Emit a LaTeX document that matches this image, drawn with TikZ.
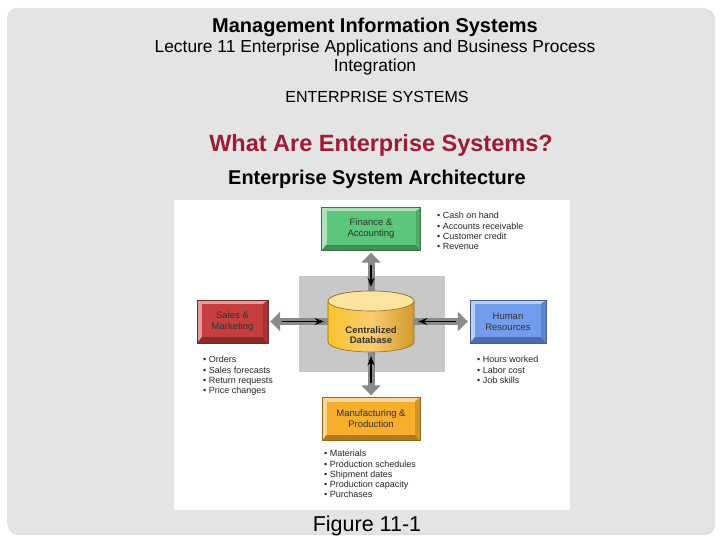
\documentclass[tikz,border=0pt]{standalone}
\usepackage{fontspec}
\setmainfont{Liberation Sans}
\usetikzlibrary{arrows, arrows.meta}

\definecolor{slidegray}{HTML}{E4E4E4}
\definecolor{titlered}{HTML}{9E1B32}
\definecolor{fingreen}{HTML}{5CC67A}
\definecolor{salesred}{HTML}{C63E3E}
\definecolor{hrblue}{HTML}{729DEC}
\definecolor{mfgorange}{HTML}{F7AE2C}
\definecolor{dbbody}{HTML}{F8B535}
\definecolor{dbtop}{HTML}{FDE3A0}
\definecolor{squaregray}{HTML}{C8C8C8}
\definecolor{linkgray}{HTML}{8A8A8A}

\begin{document}
\begin{tikzpicture}[x=1pt,y=-1pt,>={Stealth[length=9pt,width=7pt]},
  dept/.style={rectangle,draw=#1!60!black,fill=#1!50!white,minimum height=43pt,
    inner sep=0pt,align=center,text=black!80,font=\fontsize{9.5}{11}\selectfont,
    path picture={
      \fill[#1!70!black] (path picture bounding box.south west) -- ++(5pt,6pt)
        -- ([shift={(-5pt,6pt)}]path picture bounding box.south east)
        -- (path picture bounding box.south east) -- cycle;
      \fill[#1!85!black] (path picture bounding box.south east) -- ++(-5pt,6pt)
        -- ([shift={(-5pt,-4pt)}]path picture bounding box.north east)
        -- (path picture bounding box.north east) -- cycle;
      \fill[#1] ([shift={(5pt,-4pt)}]path picture bounding box.north west)
        rectangle ([shift={(-5pt,6pt)}]path picture bounding box.south east);}},
  list/.style={anchor=north west,inner sep=0pt,align=left,text=black!85,
    font=\fontsize{9}{10.3}\selectfont},
  link/.style={draw=linkgray,line width=7pt,arrows={Triangle[width=19pt,length=10pt]-},
    shorten <=2pt},
  flow/.style={draw=black,line width=1.3pt,->,shorten <=14pt,shorten >=4pt}]

  \useasboundingbox (0,0) rectangle (720,540);
  % slide
  \fill[white] (0,0) rectangle (720,540);
  \fill[black!12,rounded corners=10pt] (8,9) rectangle (715,535);
  \fill[slidegray,rounded corners=10pt] (7,8) rectangle (713,533);

  \node[anchor=base,font=\bfseries\fontsize{20}{23}\selectfont] (title) at (375,33) {Management Information Systems};
  \node[anchor=base,font=\fontsize{17.4}{20}\selectfont] (lect) at (375,53) {Lecture 11 Enterprise Applications and Business Process};
  \node[anchor=base,font=\fontsize{17.4}{20}\selectfont] (lect2) at (375,72) {Integration};
  \node[anchor=base,font=\fontsize{16}{19}\selectfont] (sect) at (377,103) {ENTERPRISE SYSTEMS};
  \node[anchor=base,text=titlered,font=\bfseries\fontsize{23.5}{27}\selectfont] (head) at (381,152) {What Are Enterprise Systems?};
  \node[anchor=base,font=\bfseries\fontsize{19.9}{23}\selectfont] (sub) at (377,185) {Enterprise System Architecture};
  \node[anchor=base,font=\fontsize{21.5}{24}\selectfont] (fig) at (367,531) {Figure 11-1};

  % figure
  \fill[white] (174,200) rectangle (570,510);
  \fill[squaregray] (299,276) rectangle (445,372);

  % database drum
  \shade[left color=dbbody!80!yellow,right color=dbbody!85!black,middle color=dbbody!70!white,
    draw=dbbody!60!black,line width=0.6pt]
    (328,301) -- (328,342) arc[start angle=180,end angle=360,x radius=43pt,y radius=10pt]
    -- (414,301) arc[start angle=0,end angle=180,x radius=43pt,y radius=10pt] -- cycle;
  \filldraw[fill=dbtop,draw=dbbody!60!black,line width=0.6pt] (371,301) ellipse[x radius=43pt,y radius=10pt];
  \node[minimum width=86pt,minimum height=61pt,inner sep=0pt] (db) at (371,321.5) {};
  \node[align=center,font=\bfseries\fontsize{9.5}{10.5}\selectfont,text=black!80] (dbtext) at (371,335) {Centralized\\Database};

  \node[dept=fingreen,minimum width=99pt,node distance=92.5pt] (1) [above of=db] {Finance \&\\Accounting};
  \node[dept=salesred,minimum width=71pt,node distance=138.5pt] (2) [left of=db] {Sales \&\\Marketing};
  \node[dept=hrblue,minimum width=76pt,node distance=137pt] (3) [right of=db] {Human\\Resources};
  \node[dept=mfgorange,minimum width=98pt,node distance=97.5pt] (4) [below of=db] {Manufacturing \&\\Production};

  \node[list] (1l) at (437,212) {• Cash on hand\\• Accounts receivable\\• Customer credit\\• Revenue};
  \node[list] (2l) at (203,356) {• Orders\\• Sales forecasts\\• Return requests\\• Price changes};
  \node[list] (3l) at (477,356) {• Hours worked\\• Labor cost\\• Job skills};
  \node[list] (4l) at (324,450) {• Materials\\• Production schedules\\• Shipment dates\\• Production capacity\\• Purchases};

  \path (1) edge [link] (db);
  \path (2) edge [link] (db);
  \path (3) edge [link] (db);
  \path (4) edge [link] (db);
  \path (1) edge [flow] (db);
  \path (2) edge [flow] (db);
  \path (3) edge [flow] (db);
  \path (4) edge [flow] (db);

\end{tikzpicture}
\end{document}
